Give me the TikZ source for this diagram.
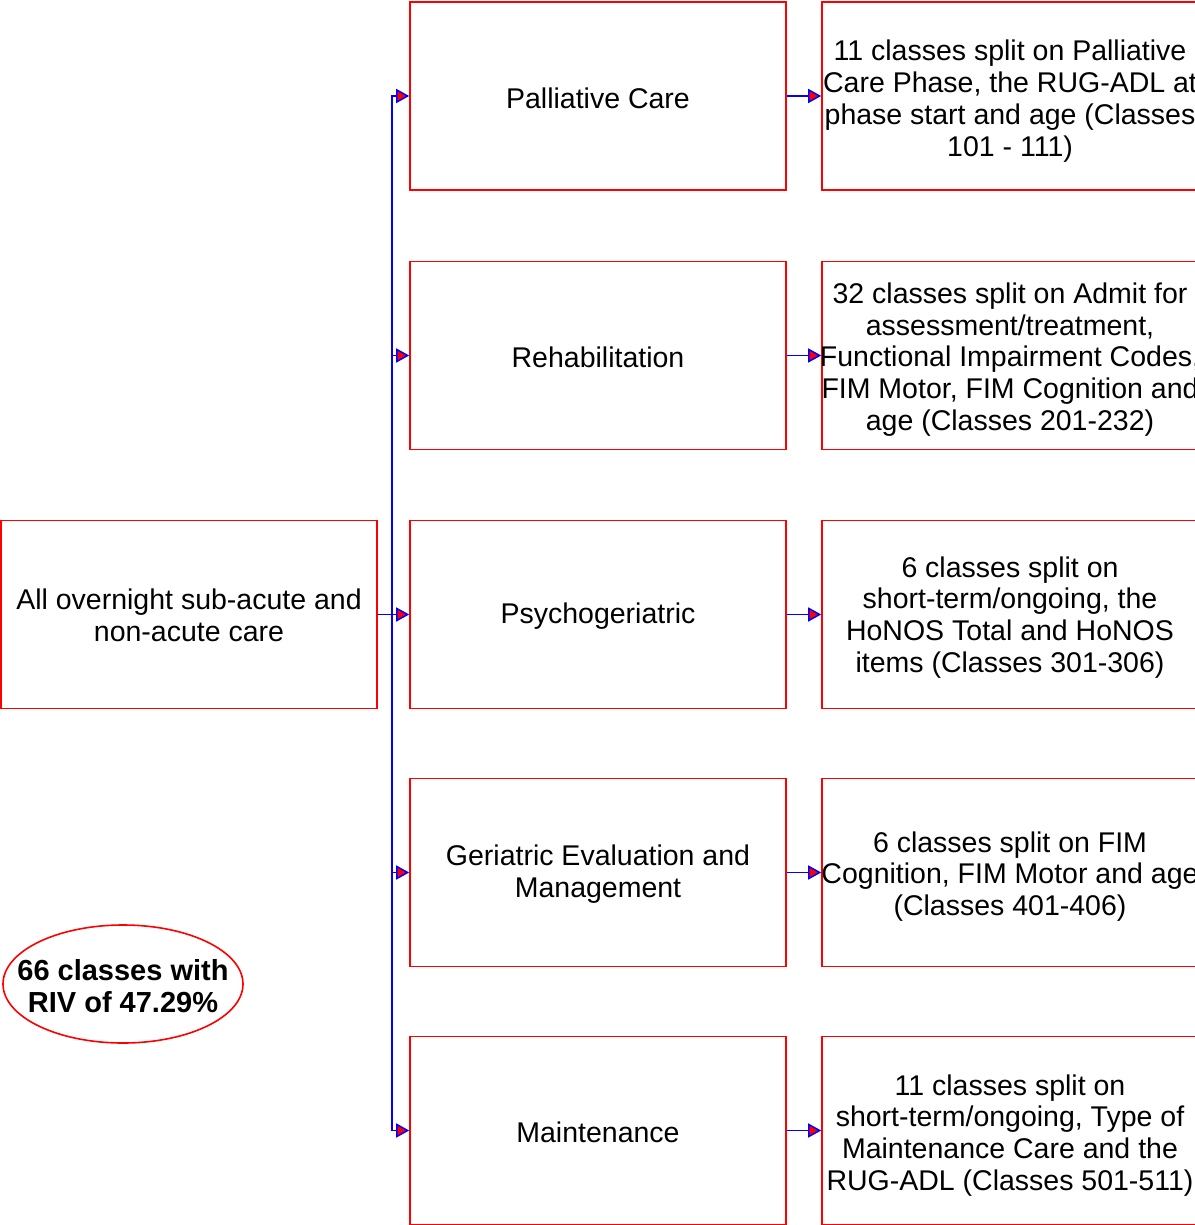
\documentclass[tikz,border=0pt]{standalone}
\usepackage{fontspec}
\setmainfont{Liberation Sans}
\usetikzlibrary{arrows.meta,shapes.geometric}
\begin{document}
\begin{tikzpicture}[x=1pt,y=-1pt,
  box/.style={draw=red,line width=1.6pt,minimum width=376pt,minimum height=188pt,inner sep=0pt},
  txt/.style={align=center,inner sep=0pt,font=\fontsize{28.5}{31.8}\selectfont},
  arr/.style={draw=blue,line width=1.5pt,-{Triangle[length=13pt,width=14pt,fill=red,line width=1.5pt]}},
  oval/.style={draw=red,line width=1.6pt,ellipse,minimum width=240pt,minimum height=118pt,inner sep=0pt}]
\useasboundingbox (0,0) rectangle (1194,1225);
% left box
\node[box] (all) at (189,614.5) {};
\node[txt] (allt) at ([yshift=-1pt]all.center) {All overnight sub-acute and\\non-acute care};
% middle boxes
\node[box] (pal) at (598,96) {};
\node[txt] (palt) at ([yshift=-2pt]pal.center) {Palliative Care};
\node[box] (reh) at (598,355.5) {};
\node[txt] (reht) at ([yshift=-2pt]reh.center) {Rehabilitation};
\node[box] (psy) at (598,614.5) {};
\node[txt] (psyt) at ([yshift=-2pt]psy.center) {Psychogeriatric};
\node[box] (gem) at (598,872.5) {};
\node[txt] (gemt) at ([yshift=-2pt]gem.center) {Geriatric Evaluation and\\Management};
\node[box] (mai) at (598,1130.5) {};
\node[txt] (mait) at ([yshift=-2pt]mai.center) {Maintenance};
% right boxes
\node[box] (r1) at (1010,96) {};
\node[txt] (r1t) at ([yshift=-5pt]r1.center) {11 classes split on Palliative\\Care Phase, the RUG-ADL at\\phase start and age (Classes\\101 - 111)};
\node[box] (r2) at (1010,355.5) {};
\node[txt] (r2t) at ([yshift=-4pt]r2.center) {32 classes split on Admit for\\assessment/treatment,\\Functional Impairment Codes,\\FIM Motor, FIM Cognition and\\age (Classes 201-232)};
\node[box] (r3) at (1010,614.5) {};
\node[txt] (r3t) at ([yshift=-3pt]r3.center) {6 classes split on\\short-term/ongoing, the\\HoNOS Total and HoNOS\\items (Classes 301-306)};
\node[box] (r4) at (1010,872.5) {};
\node[txt] (r4t) at ([yshift=-4pt]r4.center) {6 classes split on FIM\\Cognition, FIM Motor and age\\(Classes 401-406)};
\node[box] (r5) at (1010,1130.5) {};
\node[txt] (r5t) at ([yshift=-5pt]r5.center) {11 classes split on\\short-term/ongoing, Type of\\Maintenance Care and the\\RUG-ADL (Classes 501-511)};
% ellipse
\node[oval] (riv) at (123,984) {};
\node[txt,font=\fontsize{29}{31.8}\selectfont\bfseries] (rivt) at ([yshift=-2pt]riv.center) {66 classes with\\RIV of 47.29\%};
% connectors
\coordinate (trunk) at (392,614.5);
\draw[arr] (all.east) -- (psy.west);
\draw[arr] (all.east) -- (trunk) |- (pal.west);
\draw[arr] (all.east) -- (trunk) |- (reh.west);
\draw[arr] (all.east) -- (trunk) |- (gem.west);
\draw[arr] (all.east) -- (trunk) |- (mai.west);
\draw[arr] (pal.east) -- (r1.west);
\draw[arr] (reh.east) -- (r2.west);
\draw[arr] (psy.east) -- (r3.west);
\draw[arr] (gem.east) -- (r4.west);
\draw[arr] (mai.east) -- (r5.west);
\end{tikzpicture}
\end{document}
